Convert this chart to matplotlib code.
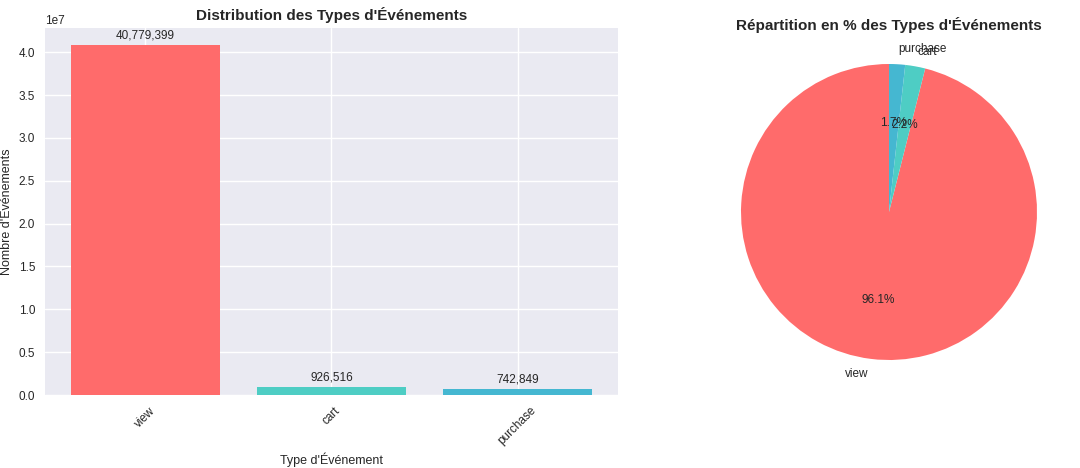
import matplotlib
matplotlib.use("Agg")
import matplotlib.pyplot as plt

event_types = ["view", "cart", "purchase"]
counts = [40779399, 926516, 742849]
colors = ["#FF6B6B", "#4ECDC4", "#45B7D1"]

plt.style.use("seaborn-v0_8")
plt.rcParams["font.family"] = ["Liberation Sans", "DejaVu Sans"]
fig = plt.figure(figsize=(10.8, 4.68), dpi=100)
W, H = 1080, 468
ax1 = fig.add_axes([45 / W, (H - 395) / H, 573 / W, 367 / H])
ax2 = fig.add_axes([704 / W, 71 / H, 370 / W, 370 / H])

bars = ax1.bar(event_types, counts, color=colors)
ax1.set_title("Distribution des Types d'Événements", fontsize=11, fontweight="bold")
ax1.set_xlabel("Type d'Événement", fontsize=9)
ax1.set_ylabel("Nombre d'Événements", fontsize=9)
ax1.tick_params(axis="x", rotation=45, labelsize=8.5)
ax1.tick_params(axis="y", labelsize=8.5)
ax1.yaxis.get_offset_text().set_fontsize(8.5)
for b, v in zip(bars, counts):
    ax1.text(b.get_x() + b.get_width() / 2, b.get_height() + max(counts) * 0.01,
             f"{v:,}", ha="center", va="bottom", fontsize=8.5)

ax2.pie(counts, labels=event_types, colors=colors, autopct="%1.1f%%",
        startangle=90, textprops={"fontsize": 8.5})
ax2.set_xlim(-1.25, 1.25)
ax2.set_ylim(-1.25, 1.25)
ax2.set_title("Répartition en % des Types d'Événements", fontsize=11,
              fontweight="bold", y=1.0, pad=-2)

plt.savefig("out.png", dpi=100)
